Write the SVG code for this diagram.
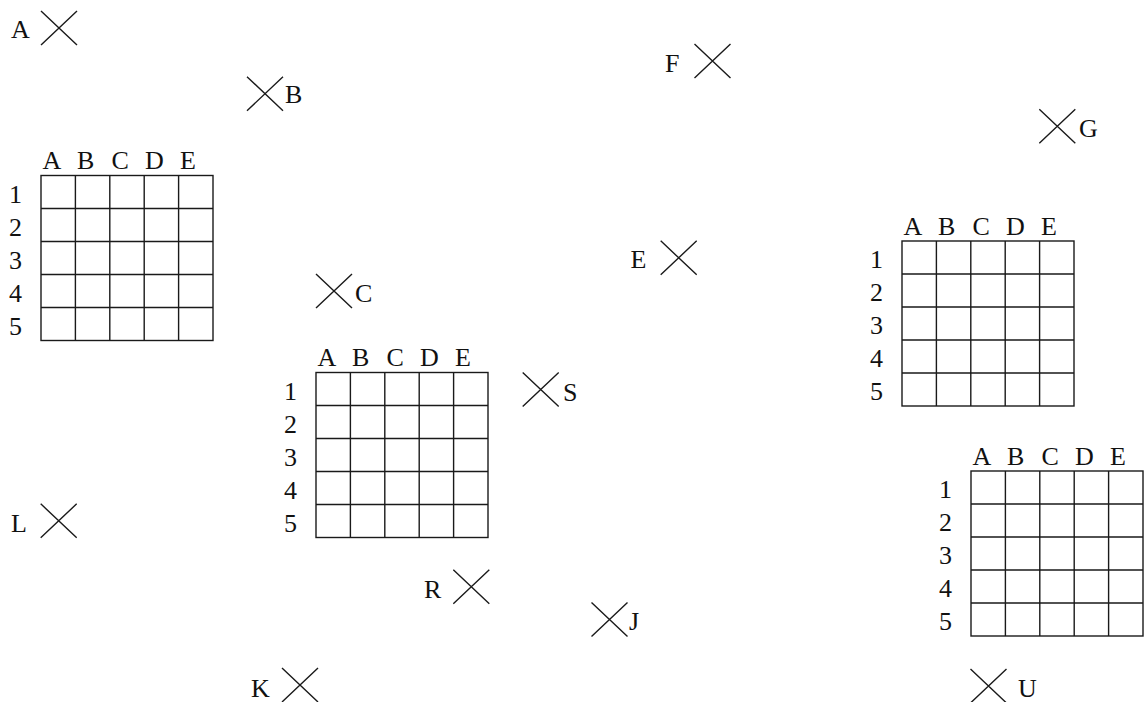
<svg xmlns="http://www.w3.org/2000/svg" xmlns:xlink="http://www.w3.org/1999/xlink" width="1147" height="702" viewBox="0 0 1147 702">
<style>
text{font-family:"Liberation Serif","Times New Roman",serif;font-size:26px;fill:#111}
.ln{stroke:#1a1a1a;stroke-width:1.4;fill:none}
</style>
<defs>
<g id="grid" class="ln">
<rect x="0" y="0" width="172" height="165"/>
<path d="M34.4,0V165M68.8,0V165M103.2,0V165M137.6,0V165M0,33H172M0,66H172M0,99H172M0,132H172"/>
</g>
<path id="x" class="ln" d="M-18,-17L18,17M-18,17L18,-17"/>
<g id="lbl">
<text x="1.5" y="-6.5">A</text><text x="36" y="-6.5">B</text><text x="70.5" y="-6.5">C</text><text x="104" y="-6.5">D</text><text x="139" y="-6.5">E</text>
<text x="-32" y="27">1</text><text x="-32" y="60">2</text><text x="-32" y="93">3</text><text x="-32" y="126">4</text><text x="-32" y="159">5</text>
</g>
</defs>
<rect width="1147" height="702" fill="#fff"/>
<g id="grid1" transform="translate(41,175.5)"><use xlink:href="#grid"/><use xlink:href="#lbl"/></g>
<g id="grid2" transform="translate(316,372.5)"><use xlink:href="#grid"/><use xlink:href="#lbl"/></g>
<g id="grid3" transform="translate(902,241)"><use xlink:href="#grid"/><use xlink:href="#lbl"/></g>
<g id="grid4" transform="translate(971,471)"><use xlink:href="#grid"/><use xlink:href="#lbl"/></g>
<g id="pA"><use xlink:href="#x" x="59" y="28"/><text x="11" y="37.7">A</text></g>
<g id="pB"><use xlink:href="#x" x="265" y="93.7"/><text x="285" y="103.3">B</text></g>
<g id="pF"><use xlink:href="#x" x="712.5" y="61"/><text x="665" y="71.7">F</text></g>
<g id="pG"><use xlink:href="#x" x="1057.3" y="126.3"/><text x="1079" y="137.3">G</text></g>
<g id="pE"><use xlink:href="#x" x="678.7" y="257.8"/><text x="630.5" y="268.3">E</text></g>
<g id="pC"><use xlink:href="#x" x="334" y="291"/><text x="355" y="301.7">C</text></g>
<g id="pS"><use xlink:href="#x" x="540.7" y="389.5"/><text x="563" y="400.7">S</text></g>
<g id="pL"><use xlink:href="#x" x="58.7" y="520.8"/><text x="11" y="531.7">L</text></g>
<g id="pR"><use xlink:href="#x" x="471.3" y="586.7"/><text x="424" y="597.7">R</text></g>
<g id="pJ"><use xlink:href="#x" x="609.5" y="619.5"/><text x="629" y="630">J</text></g>
<g id="pK"><use xlink:href="#x" x="300" y="685"/><text x="251" y="696.7">K</text></g>
<g id="pU"><use xlink:href="#x" x="988.5" y="686"/><text x="1018" y="697">U</text></g>
</svg>
